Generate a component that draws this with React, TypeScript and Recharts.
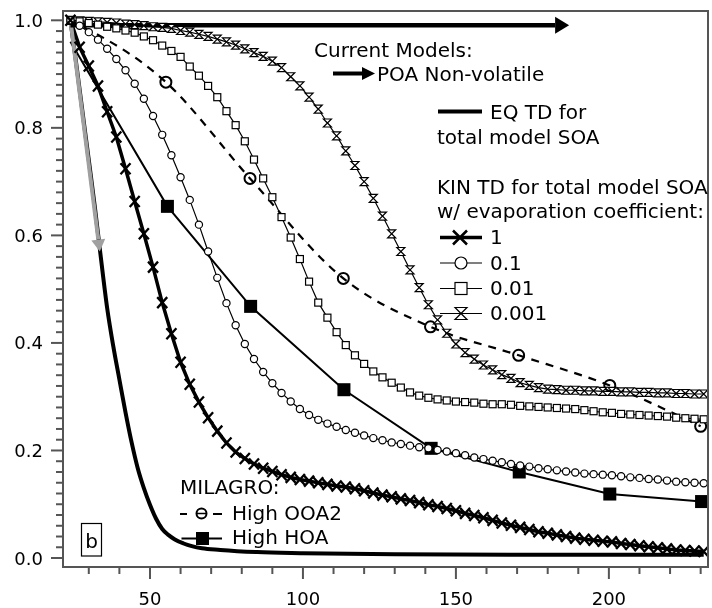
import React from "react";
import { LineChart, Line, XAxis, YAxis, ReferenceLine } from "recharts";

// model sample points (x in the plot units, every 3)
const kinX = [
  24, 27, 30, 33, 36, 39, 42, 45, 48, 51, 54, 57, 60, 63, 66, 69, 72, 75, 78, 81,
  84, 87, 90, 93, 96, 99, 102, 105, 108, 111, 114, 117, 120, 123, 126, 129, 132,
  135, 138, 141, 144, 147, 150, 153, 156, 159, 162, 165, 168, 171, 174, 177, 180,
  183, 186, 189, 192, 195, 198, 201, 204, 207, 210, 213, 216, 219, 222, 225, 228,
  231,
];

// KIN TD, evaporation coefficient 1
const kin1 = [
  1.0, 0.95, 0.915, 0.878, 0.83, 0.783, 0.724, 0.663, 0.603, 0.541, 0.475, 0.417,
  0.364, 0.323, 0.29, 0.261, 0.236, 0.214, 0.197, 0.185, 0.175, 0.167, 0.161,
  0.155, 0.15, 0.146, 0.143, 0.14, 0.137, 0.134, 0.132, 0.129, 0.125, 0.121,
  0.117, 0.114, 0.11, 0.107, 0.103, 0.099, 0.096, 0.092, 0.088, 0.083, 0.079,
  0.075, 0.07, 0.065, 0.061, 0.057, 0.053, 0.049, 0.046, 0.043, 0.04, 0.037,
  0.035, 0.033, 0.031, 0.03, 0.027, 0.025, 0.023, 0.021, 0.019, 0.017, 0.015,
  0.014, 0.013, 0.012,
];

// 0.1
const kin01 = [
  1.0, 0.99, 0.978, 0.964, 0.947, 0.928, 0.907, 0.882, 0.854, 0.822, 0.787,
  0.749, 0.708, 0.666, 0.62, 0.57, 0.521, 0.474, 0.433, 0.398, 0.37, 0.346,
  0.325, 0.307, 0.291, 0.277, 0.266, 0.257, 0.25, 0.244, 0.238, 0.233, 0.228,
  0.223, 0.219, 0.215, 0.212, 0.209, 0.206, 0.204, 0.201, 0.198, 0.195, 0.191,
  0.187, 0.184, 0.181, 0.178, 0.175, 0.172, 0.17, 0.167, 0.165, 0.163, 0.161,
  0.159, 0.157, 0.156, 0.155, 0.154, 0.152, 0.15, 0.149, 0.147, 0.146, 0.144,
  0.142, 0.141, 0.14, 0.139,
];

// 0.01
const kin001 = [
  1.0, 0.998, 0.995, 0.992, 0.988, 0.985, 0.981, 0.977, 0.97, 0.963, 0.953,
  0.943, 0.932, 0.914, 0.897, 0.878, 0.857, 0.831, 0.805, 0.775, 0.741, 0.706,
  0.671, 0.634, 0.596, 0.556, 0.514, 0.475, 0.447, 0.42, 0.396, 0.377, 0.361,
  0.347, 0.336, 0.326, 0.317, 0.308, 0.302, 0.298, 0.295, 0.293, 0.291, 0.29,
  0.289, 0.287, 0.286, 0.286, 0.285, 0.283, 0.282, 0.281, 0.28, 0.279, 0.278,
  0.277, 0.275, 0.273, 0.271, 0.27, 0.268, 0.267, 0.266, 0.265, 0.264, 0.263,
  0.261, 0.26, 0.259, 0.258,
];

// 0.001
const kin0001 = [
  1.0, 0.999, 0.998, 0.997, 0.996, 0.995, 0.993, 0.992, 0.99, 0.988, 0.987,
  0.985, 0.981, 0.978, 0.974, 0.97, 0.965, 0.96, 0.954, 0.947, 0.94, 0.933,
  0.924, 0.912, 0.895, 0.878, 0.857, 0.835, 0.809, 0.785, 0.757, 0.73, 0.7,
  0.669, 0.636, 0.603, 0.57, 0.536, 0.503, 0.471, 0.443, 0.418, 0.398, 0.382,
  0.37, 0.359, 0.35, 0.341, 0.334, 0.326, 0.321, 0.317, 0.314, 0.313, 0.312,
  0.312, 0.311, 0.311, 0.31, 0.31, 0.309, 0.309, 0.308, 0.308, 0.307, 0.307,
  0.306, 0.306, 0.305, 0.305,
];

// EQ TD
const eqX = [
  24, 26, 28, 30, 32, 34, 36, 38, 40, 42, 44, 46, 48, 50, 52, 54, 56, 58, 61, 67,
  73, 85, 100, 130, 170, 231,
];
const eqY = [
  1.0, 0.915, 0.827, 0.74, 0.652, 0.556, 0.465, 0.394, 0.332, 0.271, 0.215,
  0.167, 0.13, 0.099, 0.073, 0.054, 0.043, 0.035, 0.027, 0.018, 0.015, 0.011,
  0.009, 0.007, 0.006, 0.006,
];

// MILAGRO
const ooaX = [24, 55.2, 82.7, 113.2, 141.7, 170.5, 200.3, 230];
const ooaY = [1.0, 0.885, 0.706, 0.52, 0.43, 0.377, 0.321, 0.245];
const hoaX = [24, 55.7, 82.9, 113.4, 141.9, 170.7, 200.3, 230.3];
const hoaY = [0.96, 0.654, 0.468, 0.313, 0.204, 0.16, 0.119, 0.105];

const xMajor = [50, 100, 150, 200];
const xMinor = [30, 40, 60, 70, 80, 90, 110, 120, 130, 140, 160, 170, 180, 190, 210, 220, 230];
const yMajor = [0, 0.2, 0.4, 0.6, 0.8, 1.0];

const X_MIN = 21.57;
const X_MAX = 232.4;
const Y_MIN = -0.0167;
const Y_MAX = 1.0173;

const FONT = "DejaVu Sans";
const AXIS = "#555";

const pts = (xs: number[], ys: number[]) => xs.map((x, i) => ({ x, y: ys[i] }));

const xTicks = [...xMajor, ...xMinor].sort((a, b) => a - b);
const yTicks = Array.from({ length: 51 }, (_, i) => +(i * 0.02).toFixed(2));

const isYMajor = (v: number) => yMajor.some((m) => Math.abs(m - v) < 1e-6);

const XTick = (props: any) => {
  const { x, y, payload } = props;
  const major = xMajor.includes(payload.value);
  return (
    <g>
      <line x1={x} x2={x} y1={y} y2={y + (major ? 12 : 7)} stroke={AXIS} strokeWidth={2} />
      {major && (
        <text x={x} y={y + 38} textAnchor="middle" fontSize={18} fontFamily={FONT} fill="#000">
          {payload.value}
        </text>
      )}
    </g>
  );
};

const YTick = (props: any) => {
  const { x, y, payload } = props;
  const major = isYMajor(payload.value);
  return (
    <g>
      <line x1={x - (major ? 12 : 7)} x2={x} y1={y} y2={y} stroke={AXIS} strokeWidth={2} />
      {major && (
        <text x={x - 20} y={y + 6.5} textAnchor="end" fontSize={18} fontFamily={FONT} fill="#000">
          {payload.value.toFixed(1)}
        </text>
      )}
    </g>
  );
};

// markers
const crossDot = (p: any) => (
  <path
    key={`c${p.index}`}
    d={`M${p.cx - 5},${p.cy - 5.5}L${p.cx + 5},${p.cy + 5.5}M${p.cx + 5},${p.cy - 5.5}L${p.cx - 5},${p.cy + 5.5}`}
    stroke="#000"
    strokeWidth={2.3}
    fill="none"
  />
);
const circleDot = (p: any) => (
  <circle key={`o${p.index}`} cx={p.cx} cy={p.cy} r={3.6} fill="#fff" stroke="#000" strokeWidth={1.2} />
);
const squareDot = (p: any) => (
  <rect key={`s${p.index}`} x={p.cx - 3.5} y={p.cy - 3.5} width={7} height={7} fill="#fff" stroke="#000" strokeWidth={1.2} />
);
const hourDot = (p: any) => (
  <path
    key={`h${p.index}`}
    d={`M${p.cx - 4},${p.cy - 4}L${p.cx + 4},${p.cy - 4}L${p.cx - 4},${p.cy + 4}L${p.cx + 4},${p.cy + 4}Z`}
    fill="#fff"
    stroke="#000"
    strokeWidth={1.2}
  />
);
const ooaDot = (p: any) =>
  p.index === 0 ? (
    <g key={`a${p.index}`} />
  ) : (
    <circle key={`a${p.index}`} cx={p.cx} cy={p.cy} r={5.5} fill="none" stroke="#000" strokeWidth={2} />
  );
const hoaDot = (p: any) =>
  p.index === 0 ? (
    <g key={`b${p.index}`} />
  ) : (
    <rect key={`b${p.index}`} x={p.cx - 6.5} y={p.cy - 6.5} width={13} height={13} fill="#000" />
  );

const arrowShape = (color: string, width: number, headLen: number, headHalf: number) => (p: any) => {
  const { x1, y1, x2, y2 } = p;
  const dx = x2 - x1;
  const dy = y2 - y1;
  const len = Math.sqrt(dx * dx + dy * dy) || 1;
  const ux = dx / len;
  const uy = dy / len;
  const bx = x2 - ux * headLen;
  const by = y2 - uy * headLen;
  return (
    <g>
      <line x1={x1} y1={y1} x2={bx} y2={by} stroke={color} strokeWidth={width} />
      <polygon
        points={`${x2},${y2} ${bx - uy * headHalf},${by + ux * headHalf} ${bx + uy * headHalf},${by - ux * headHalf}`}
        fill={color}
      />
    </g>
  );
};

const Legend = () => (
  <svg
    width={712}
    height={608}
    style={{ position: "absolute", left: -8, top: -8, pointerEvents: "none" }}
    fontFamily={FONT}
    fontSize={20}
  >
    {/* plot frame */}
    <rect x={63} y={11} width={645} height={556} fill="none" stroke={AXIS} strokeWidth={2} />

    <text x={314} y={57}>Current Models:</text>
    <line x1={333} y1={73.5} x2={363} y2={73.5} stroke="#000" strokeWidth={4} />
    <polygon points="375,73.5 362,67 362,80" fill="#000" />
    <text x={377} y={81}>POA Non-volatile</text>

    <line x1={438} y1={111.5} x2={482} y2={111.5} stroke="#000" strokeWidth={4} />
    <text x={490} y={119}>EQ TD for</text>
    <text x={437} y={143.5}>total model SOA</text>

    <text x={437} y={194}>KIN TD for total model SOA</text>
    <text x={437} y={218}>w/ evaporation coefficient:</text>

    <line x1={440} y1={237.5} x2={482} y2={237.5} stroke="#000" strokeWidth={3.5} />
    <path d="M453,230.5L467,244.5M467,230.5L453,244.5" stroke="#000" strokeWidth={2.5} />
    <text x={490} y={244}>1</text>

    <line x1={440} y1={263} x2={482} y2={263} stroke="#000" strokeWidth={1.2} />
    <circle cx={461} cy={263} r={6} fill="#fff" stroke="#000" strokeWidth={1.2} />
    <text x={490} y={270}>0.1</text>

    <line x1={440} y1={288.5} x2={482} y2={288.5} stroke="#000" strokeWidth={1.2} />
    <rect x={455} y={282.5} width={12} height={12} fill="#fff" stroke="#000" strokeWidth={1.2} />
    <text x={490} y={295}>0.01</text>

    <line x1={440} y1={313.5} x2={482} y2={313.5} stroke="#000" strokeWidth={1.2} />
    <path d="M455,307.5L467,307.5L455,319.5L467,319.5Z" fill="#fff" stroke="#000" strokeWidth={1.2} />
    <text x={490} y={320}>0.001</text>

    <text x={180} y={494}>MILAGRO:</text>
    <line x1={180} y1={514} x2={187} y2={514} stroke="#000" strokeWidth={2} />
    <circle cx={201.5} cy={513.5} r={5} fill="none" stroke="#000" strokeWidth={2} />
    <line x1={196.5} y1={513.5} x2={206.5} y2={513.5} stroke="#000" strokeWidth={1.5} />
    <line x1={213} y1={514} x2={222} y2={514} stroke="#000" strokeWidth={2} />
    <text x={232} y={519.5}>High OOA2</text>

    <line x1={181.5} y1={538.5} x2={222} y2={538.5} stroke="#000" strokeWidth={2} />
    <rect x={196} y={532} width={13} height={13} fill="#000" />
    <text x={232} y={544}>High HOA</text>

    <rect x={81.5} y={523.5} width={20} height={32.5} fill="#fff" stroke="#000" strokeWidth={1.2} />
    <text x={91.5} y={548} textAnchor="middle">b</text>
  </svg>
);

export default function App() {
  return (
    // fixed so the 712x608 window gets no scrollbars
    <div style={{ position: "fixed", left: 8, top: 8, width: 704, height: 600 }}>
      <LineChart width={704} height={600} margin={{ top: 3, right: 4, left: 0, bottom: 0 }}>
        <XAxis
          type="number"
          dataKey="x"
          domain={[X_MIN, X_MAX]}
          allowDataOverflow
          ticks={xTicks}
          interval={0}
          tick={XTick}
          tickLine={false}
          tickSize={0}
          tickMargin={0}
          height={41}
          axisLine={{ stroke: AXIS, strokeWidth: 2 }}
        />
        <YAxis
          type="number"
          dataKey="y"
          domain={[Y_MIN, Y_MAX]}
          allowDataOverflow
          ticks={yTicks}
          interval={0}
          tick={YTick}
          tickLine={false}
          tickSize={0}
          tickMargin={0}
          width={55}
          axisLine={{ stroke: AXIS, strokeWidth: 2 }}
        />
        <Line
          data={pts(eqX, eqY)}
          dataKey="y"
          type="monotone"
          stroke="#000"
          strokeWidth={4}
          dot={false}
          activeDot={false}
          isAnimationActive={false}
        />
        <Line
          data={pts(hoaX, hoaY)}
          dataKey="y"
          type="linear"
          stroke="#000"
          strokeWidth={2}
          dot={hoaDot}
          activeDot={false}
          isAnimationActive={false}
        />
        <Line
          data={pts(ooaX, ooaY)}
          dataKey="y"
          type="monotone"
          stroke="#000"
          strokeWidth={2.2}
          strokeDasharray="8 7"
          dot={ooaDot}
          activeDot={false}
          isAnimationActive={false}
        />
        <Line
          data={pts(kinX, kin0001)}
          dataKey="y"
          type="linear"
          stroke="#000"
          strokeWidth={1.2}
          dot={hourDot}
          activeDot={false}
          isAnimationActive={false}
        />
        <Line
          data={pts(kinX, kin001)}
          dataKey="y"
          type="linear"
          stroke="#000"
          strokeWidth={1.2}
          dot={squareDot}
          activeDot={false}
          isAnimationActive={false}
        />
        <Line
          data={pts(kinX, kin01)}
          dataKey="y"
          type="linear"
          stroke="#000"
          strokeWidth={1.2}
          dot={circleDot}
          activeDot={false}
          isAnimationActive={false}
        />
        <Line
          data={pts(kinX, kin1)}
          dataKey="y"
          type="linear"
          stroke="#000"
          strokeWidth={3.5}
          dot={crossDot}
          activeDot={false}
          isAnimationActive={false}
        />
        <ReferenceLine
          segment={[
            { x: 24, y: 1.0 },
            { x: 33.6, y: 0.57 },
          ]}
          ifOverflow="visible"
          shape={arrowShape("#a0a0a0", 4, 12, 7)}
        />
        <ReferenceLine
          segment={[
            { x: 24, y: 0.991 },
            { x: 187, y: 0.991 },
          ]}
          ifOverflow="visible"
          shape={arrowShape("#000", 4.5, 14, 8.5)}
        />
      </LineChart>
      <Legend />
    </div>
  );
}
